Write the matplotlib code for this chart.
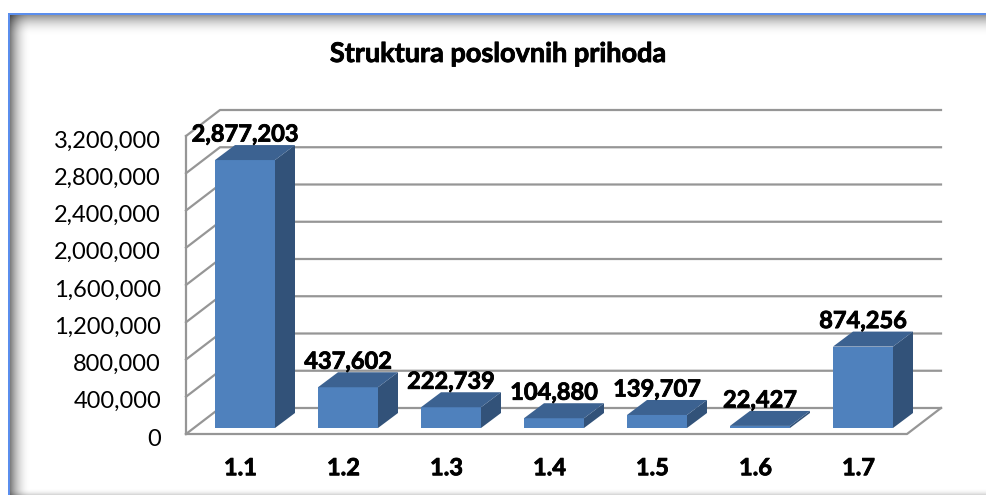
#!/usr/bin/env python3
"""
Struktura poslovnih prihoda - column chart drawn with an Excel style 3D look
"""

import numpy as np
import matplotlib
matplotlib.use('Agg')
import matplotlib.pyplot as plt
import matplotlib.patheffects as pe
from matplotlib.patches import Polygon
from matplotlib.transforms import ScaledTranslation

categories = ['1.1', '1.2', '1.3', '1.4', '1.5', '1.6', '1.7']
values = [2877203, 437602, 222739, 104880, 139707, 22427, 874256]
tick_values = [0, 400000, 800000, 1200000, 1600000, 2000000, 2400000, 2800000, 3200000]

W, H = 986, 495
GRID = '#969696'
FRONT = '#4f81bd'
SIDE = '#325279'
TOP = '#3c6291'

plt.rcParams['font.family'] = ['Lato', 'DejaVu Sans']

fig = plt.figure(figsize=(W / 100, H / 100), dpi=100)

# Lato bold is lighter than the reference, thicken it a little
HEAVY = [pe.withStroke(linewidth=0.6, foreground='black')]


def draw_background():
    # blue frame line on left and top with a soft grey shadow inside it
    bg = fig.add_axes([0, 0, 1, 1], zorder=0)
    xx, yy = np.meshgrid(np.arange(W), np.arange(H))
    left = 1 - 0.5 * (1 - np.clip((xx - 10) / 20, 0, 1)) ** 2
    top = 1 - 0.4 * (1 - np.clip((yy - 15) / 20, 0, 1)) ** 2
    bottom = 1 - 0.15 * (1 - np.clip((H - 1 - yy) / 6, 0, 1)) ** 2
    shade = left * top * bottom
    img = np.dstack([shade, shade, shade])
    img[(xx < 8) | (yy < 13)] = 1.0
    blue = ((xx >= 8) & (xx < 10) & (yy >= 13)) | ((yy >= 13) & (yy < 15) & (xx >= 8))
    img[blue] = [0.36, 0.56, 0.93]
    bg.imshow(img, aspect='auto', interpolation='nearest')
    bg.axis('off')


def main():
    draw_background()

    # axes box is the front plane of the 3D plot
    x0, x1, y_bottom, y_top = 186, 907, 434, 136
    ax = fig.add_axes([x0 / W, 1 - y_bottom / H, (x1 - x0) / W, (y_bottom - y_top) / H], zorder=1)
    ax.patch.set_alpha(0)
    ax.set_xlim(0, len(categories))
    ax.set_ylim(0, tick_values[-1])

    # pixel sizes turned into data units
    ux = len(categories) / (x1 - x0)
    uy = tick_values[-1] / (y_bottom - y_top)
    wall_dx, wall_dy = 34 * ux, 26 * uy
    bar_dx, bar_dy = 20 * ux, 15 * uy
    n = len(categories)

    # walls and floor
    ax.plot([0, 0], [0, tick_values[-1]], color=GRID, lw=1.6, clip_on=False, zorder=2)
    ax.plot([0, n, n + wall_dx], [0, 0, wall_dy], color=GRID, lw=1.6, clip_on=False, zorder=2)
    for t in tick_values:
        ax.plot([0, wall_dx, n + wall_dx], [t, t + wall_dy, t + wall_dy],
                color=GRID, lw=1.6, clip_on=False, zorder=2)

    # bars
    xpos = np.arange(n) + 0.5 + 7.5 * ux
    bar_w = 60 * ux
    lift = 6 * uy
    ax.bar(xpos, values, width=bar_w, bottom=lift, color=FRONT, zorder=3, clip_on=False)
    for x, v in zip(xpos, values):
        l, r = x - bar_w / 2, x + bar_w / 2
        b, t = lift, lift + v
        ax.add_patch(Polygon([(r, b), (r + bar_dx, b + bar_dy), (r + bar_dx, t + bar_dy), (r, t)],
                             closed=True, facecolor=SIDE, edgecolor='none', zorder=3, clip_on=False))
        ax.add_patch(Polygon([(l, t), (l + bar_dx, t + bar_dy), (r + bar_dx, t + bar_dy), (r, t)],
                             closed=True, facecolor=TOP, edgecolor='none', zorder=3, clip_on=False))
        ax.annotate(f'{v:,}', (x, t), xytext=(0, 26 * 0.72), textcoords='offset points',
                    ha='center', va='center', fontsize=17, fontweight='bold',
                    color='black', zorder=5, annotation_clip=False, path_effects=HEAVY)

    ax.set_xticks(np.arange(n) + 0.5 + 3 * ux)
    ax.set_xticklabels(categories, fontsize=17, fontweight='bold', path_effects=HEAVY)
    ax.set_yticks(tick_values)
    ax.set_yticklabels([f'{t:,}' for t in tick_values], fontsize=17)
    ax.tick_params(axis='x', length=0, pad=16)
    ax.tick_params(axis='y', length=0, pad=18)
    # y labels sit a bit below their gridline start
    down = ScaledTranslation(0, -3 / 100, fig.dpi_scale_trans)
    for label in ax.get_yticklabels():
        label.set_transform(label.get_transform() + down)
    for s in ax.spines.values():
        s.set_visible(False)

    fig.text(498 / W, 1 - 54 / H, 'Struktura poslovnih prihoda', ha='center', va='center',
             fontsize=19.5, fontweight='bold', color='black', zorder=6, path_effects=HEAVY)

    fig.savefig('out.png', dpi=100)


if __name__ == "__main__":
    main()
